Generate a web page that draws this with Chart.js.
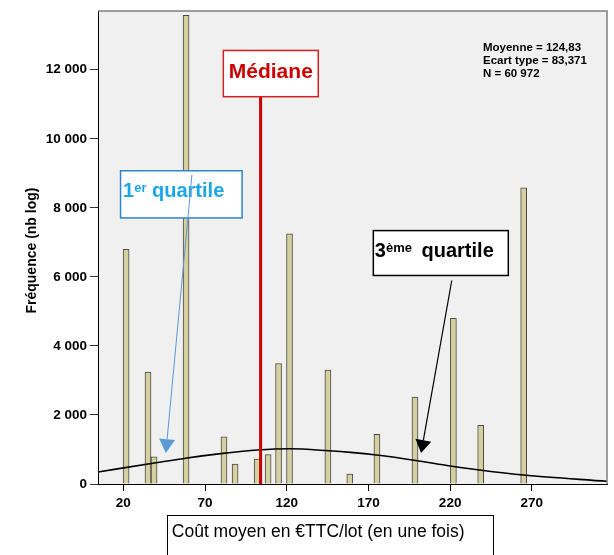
<!DOCTYPE html>
<html>
<head>
<meta charset="utf-8">
<script src="https://cdn.jsdelivr.net/npm/chart.js@4/dist/chart.umd.min.js"></script>
<style>
  html, body { margin: 0; padding: 0; background: #fff; }
  #wrap { width: 614px; height: 555px; }
</style>
</head>
<body>
<div id="wrap"><canvas id="c" width="614" height="555"></canvas></div>
<script>
// Histogram: bin centre (€TTC/lot) and frequency
const binCentres = [21.7, 35.1, 38.8, 58.4, 81.6, 88.4, 101.9, 108.6, 115.0, 121.7, 145.2, 158.6, 175.2, 198.5, 222.0, 238.7, 265.0];
const binCounts  = [6800, 3240, 790, 13580, 1370, 580, 720, 850, 3490, 7250, 3300, 290, 1440, 2520, 4800, 1700, 8580];

// Normal curve overlay, sampled points
const curveX = [4.5, 40, 59, 81, 102, 122, 146, 159, 175, 200, 220, 238, 265, 316];
const curveY = [347, 616, 755, 887, 983, 1020, 962, 916, 838, 673, 520, 405, 260, 78];

// Axis ticks
const xTickValues = [20, 70, 120, 170, 220, 270];
const yTickValues = [0, 2000, 4000, 6000, 8000, 10000, 12000];

// Summary statistics and quantiles
const statLines = ['Moyenne = 124,83', 'Ecart type = 83,371', 'N = 60 972'];
const medianValue = 104;

// Annotation placement (data units)
const layoutCfg = {
  medianBox: { x0: 81.2, x1: 139.3, y0: 12560, y1: 11220 },
  q1Box: { x0: 18.3, x1: 92.7, y0: 9075, y1: 7708 },
  q3Box: { x0: 173, x1: 255.6, y0: 7341, y1: 6041 },
  q1Arrow: { x0: 62, y0: 8960, x1: 46, y1: 896 },
  q3Arrow: { x0: 221, y0: 5896, x1: 202.2, y1: 896 },
  stats: { x: 240.1, y: 12540 },
  xTitleBox: { x0: 46.9, x1: 246.4 }
};

const FONT = '"Liberation Sans", Arial, sans-serif';

function fmtThousands(v) {
  return String(v).replace(/\B(?=(\d{3})+(?!\d))/g, ' ');
}

function drawBox(ctx, x0, y0, x1, y1, stroke, lw) {
  ctx.fillStyle = '#fff';
  ctx.fillRect(x0, y0, x1 - x0, y1 - y0);
  ctx.strokeStyle = stroke;
  ctx.lineWidth = lw;
  ctx.strokeRect(x0, y0, x1 - x0, y1 - y0);
}

function drawArrow(ctx, x0, y0, x1, y1, color, lw, headLen, headHalf) {
  const ang = Math.atan2(y1 - y0, x1 - x0);
  const bx = x1 - headLen * Math.cos(ang), by = y1 - headLen * Math.sin(ang);
  ctx.strokeStyle = color;
  ctx.lineWidth = lw;
  ctx.beginPath();
  ctx.moveTo(x0, y0);
  ctx.lineTo(bx, by);
  ctx.stroke();
  ctx.fillStyle = color;
  ctx.beginPath();
  ctx.moveTo(x1, y1);
  ctx.lineTo(bx + headHalf * Math.sin(ang), by - headHalf * Math.cos(ang));
  ctx.lineTo(bx - headHalf * Math.sin(ang), by + headHalf * Math.cos(ang));
  ctx.closePath();
  ctx.fill();
}

// Label with a superscript: base digit, superscript suffix, then the word
function drawSupLabel(ctx, x, y, base, sup, rest, color, gap) {
  ctx.fillStyle = color;
  ctx.textBaseline = 'alphabetic';
  ctx.textAlign = 'left';
  ctx.font = 'bold 20px ' + FONT;
  ctx.fillText(base, x, y);
  let cx = x + ctx.measureText(base).width;
  ctx.font = 'bold 13px ' + FONT;
  ctx.fillText(sup, cx, y - 5);
  cx += ctx.measureText(sup).width;
  ctx.font = 'bold 20px ' + FONT;
  cx += ctx.measureText(' ').width + gap;
  ctx.fillText(rest, cx, y);
}

const decor = {
  id: 'decor',
  beforeDraw(chart) {
    const { ctx, chartArea: a } = chart;
    ctx.save();
    ctx.fillStyle = '#fff';
    ctx.fillRect(0, 0, chart.width, chart.height);
    ctx.fillStyle = '#f0f0f0';
    ctx.fillRect(a.left, a.top, a.right - a.left, a.bottom - a.top);
    ctx.restore();
  },
  afterDatasetsDraw(chart) {
    const { ctx, chartArea: a } = chart;
    const xs = chart.scales.x, ys = chart.scales.y;
    const px = v => xs.getPixelForValue(v);
    const py = v => ys.getPixelForValue(v);
    ctx.save();

    // frame (top and right)
    ctx.strokeStyle = '#7f7f7f';
    ctx.lineWidth = 1.5;
    ctx.beginPath();
    ctx.moveTo(a.left, a.top);
    ctx.lineTo(a.right, a.top);
    ctx.lineTo(a.right, a.bottom);
    ctx.stroke();

    // median line and its label
    const mb = layoutCfg.medianBox;
    ctx.strokeStyle = '#cc0000';
    ctx.lineWidth = 3;
    ctx.beginPath();
    ctx.moveTo(px(medianValue), py(mb.y1));
    ctx.lineTo(px(medianValue), py(0));
    ctx.stroke();
    drawBox(ctx, px(mb.x0), py(mb.y0), px(mb.x1), py(mb.y1), '#d42020', 1.5);
    ctx.fillStyle = '#cc0000';
    ctx.font = 'bold 21px ' + FONT;
    ctx.textAlign = 'center';
    ctx.textBaseline = 'alphabetic';
    ctx.fillText('Médiane', (px(mb.x0) + px(mb.x1)) / 2, py(mb.y0) + 0.59 * (py(mb.y1) - py(mb.y0)));

    // first quartile
    const q1 = layoutCfg.q1Box;
    drawBox(ctx, px(q1.x0), py(q1.y0), px(q1.x1), py(q1.y1), '#2f86cc', 1.5);
    drawSupLabel(ctx, px(q1.x0) + 2.5, py(q1.y0) + 26, '1', 'er', 'quartile', '#1ca6ea', 0);
    const a1 = layoutCfg.q1Arrow;
    drawArrow(ctx, px(a1.x0), py(a1.y0), px(a1.x1), py(a1.y1), '#5b9bd5', 1, 14, 8);

    // third quartile
    const q3 = layoutCfg.q3Box;
    drawBox(ctx, px(q3.x0), py(q3.y0), px(q3.x1), py(q3.y1), '#000', 1.5);
    drawSupLabel(ctx, px(q3.x0) + 1.5, py(q3.y0) + 26, '3', 'ème', 'quartile', '#000', 4);
    const a3 = layoutCfg.q3Arrow;
    drawArrow(ctx, px(a3.x0), py(a3.y0), px(a3.x1), py(a3.y1), '#000', 1.2, 13, 8);

    // summary statistics
    ctx.fillStyle = '#000';
    ctx.font = 'bold 11.5px ' + FONT;
    ctx.textAlign = 'left';
    ctx.textBaseline = 'alphabetic';
    statLines.forEach((t, i) => ctx.fillText(t, px(layoutCfg.stats.x), py(layoutCfg.stats.y) + i * 13));

    // x-axis title in a box
    const xb = layoutCfg.xTitleBox;
    ctx.strokeStyle = '#000';
    ctx.lineWidth = 1;
    ctx.strokeRect(Math.round(px(xb.x0)) + 0.5, a.bottom + 31.5, Math.round(px(xb.x1) - px(xb.x0)), 60);
    ctx.font = '17.5px ' + FONT;
    ctx.fillText('Coût moyen en €TTC/lot (en une fois)', px(xb.x0) + 4.5, a.bottom + 52.5);

    // y-axis title
    ctx.translate(32, (a.top + a.bottom) / 2 + 3);
    ctx.rotate(-Math.PI / 2);
    ctx.font = 'bold 14px ' + FONT;
    ctx.textAlign = 'center';
    ctx.textBaseline = 'middle';
    ctx.fillText('Fréquence (nb log)', 0, 0);
    ctx.restore();
  }
};

const tickFont = { family: FONT, size: 13.5, weight: 'bold' };

new Chart(document.getElementById('c'), {
  type: 'bar',
  data: {
    datasets: [
      {
        type: 'line',
        data: curveX.map((x, i) => ({ x, y: curveY[i] })),
        borderColor: '#000',
        borderWidth: 1.6,
        pointRadius: 0,
        tension: 0.4,
        cubicInterpolationMode: 'monotone',
        fill: false,
        order: 0
      },
      {
        type: 'bar',
        data: binCentres.map((x, i) => ({ x, y: binCounts[i] })),
        backgroundColor: '#d6cf9f',
        borderColor: '#4a4a4a',
        borderWidth: 1,
        barThickness: 6,
        order: 1
      }
    ]
  },
  options: {
    responsive: false,
    devicePixelRatio: 1,
    animation: false,
    events: [],
    layout: { padding: { top: 10, right: 7, bottom: 0, left: 0 } },
    plugins: { legend: { display: false }, tooltip: { enabled: false } },
    scales: {
      x: {
        type: 'linear',
        min: 4.5,
        max: 316,
        offset: false,
        z: 1,
        afterBuildTicks: s => { s.ticks = xTickValues.map(v => ({ value: v })); },
        afterFit: s => { s.height = 71; },
        grid: { display: true, offset: false, drawOnChartArea: false, drawTicks: true, tickLength: 7, color: '#000', lineWidth: 1 },
        border: { display: true, color: '#000', width: 1 },
        ticks: { color: '#000', font: tickFont, padding: 4, maxRotation: 0, autoSkip: false }
      },
      y: {
        type: 'linear',
        min: 0,
        max: 13700,
        z: 1,
        afterBuildTicks: s => { s.ticks = yTickValues.map(v => ({ value: v })); },
        afterFit: s => { s.width = 98; },
        grid: { display: true, drawOnChartArea: false, drawTicks: true, tickLength: 8, color: '#333', lineWidth: 1 },
        border: { display: true, color: '#000', width: 1 },
        ticks: { color: '#000', font: tickFont, padding: 3, callback: v => fmtThousands(v) }
      }
    }
  },
  plugins: [decor]
});
</script>
</body>
</html>
